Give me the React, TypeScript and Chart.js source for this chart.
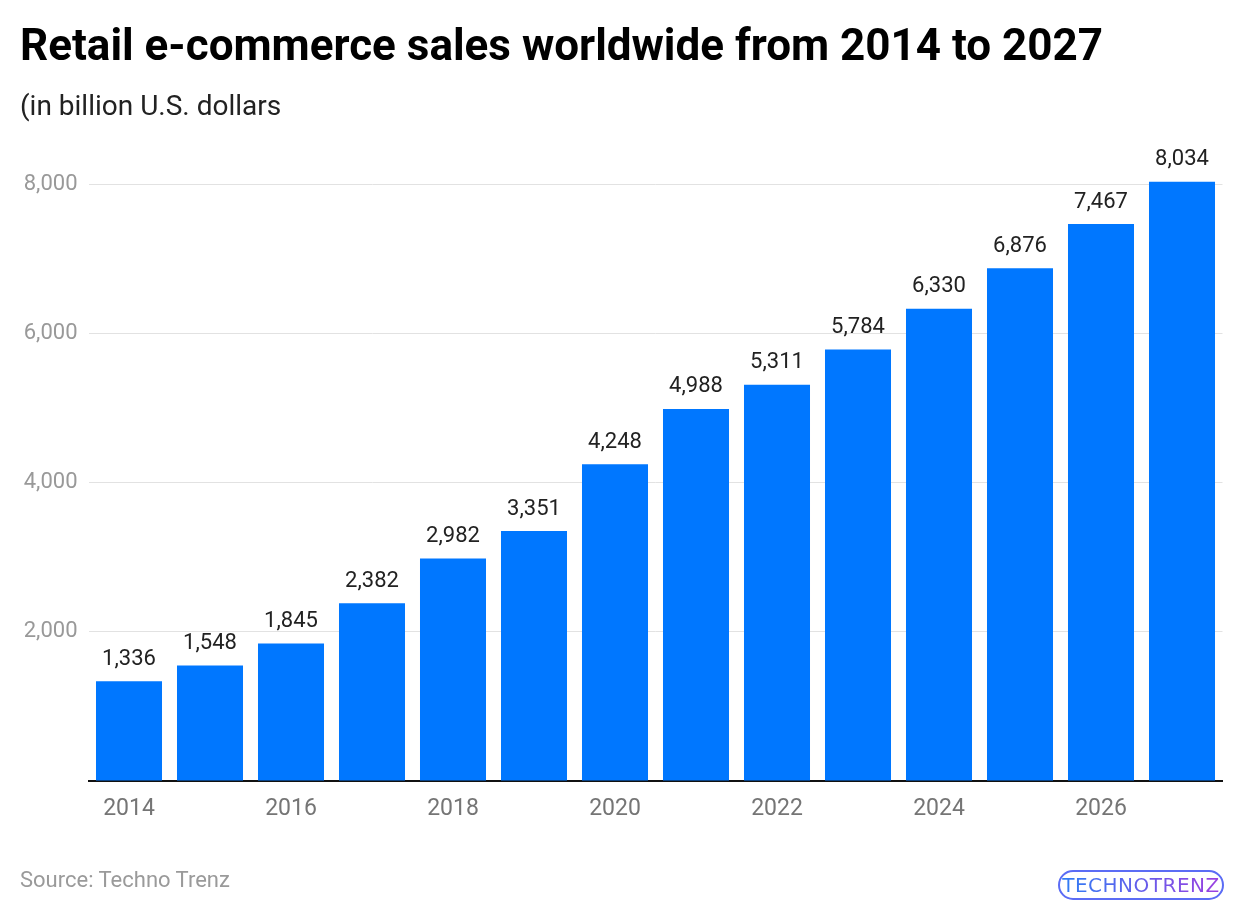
import React, { useEffect, useRef } from "react";
import { Chart, registerables } from "chart.js";

Chart.register(...registerables);

const years = ["2014","2015","2016","2017","2018","2019","2020","2021","2022","2023","2024","2025","2026","2027"];
const sales = [1336, 1548, 1845, 2382, 2982, 3351, 4248, 4988, 5311, 5784, 6330, 6876, 7467, 8034];
const yTicks = [0, 2000, 4000, 6000, 8000];

const FONT = "Roboto, 'Noto Sans', sans-serif";

const valueLabels = {
  id: "valueLabels",
  afterDatasetsDraw(chart: any) {
    const { ctx } = chart;
    const meta = chart.getDatasetMeta(0);
    ctx.save();
    ctx.font = `22px ${FONT}`;
    ctx.fillStyle = "#222222";
    ctx.textAlign = "center";
    ctx.textBaseline = "bottom";
    meta.data.forEach((bar: any, i: number) => {
      const v = chart.data.datasets[0].data[i] as number;
      ctx.fillText(v.toLocaleString("en-US"), bar.x, bar.y - 11);
    });
    ctx.restore();
  },
};

export default function App() {
  const ref = useRef<HTMLCanvasElement>(null);
  useEffect(() => {
    const chart = new Chart(ref.current!, {
      type: "bar",
      data: {
        labels: years,
        datasets: [
          {
            data: sales,
            backgroundColor: "#0077FF",
            barPercentage: 0.815,
            categoryPercentage: 1,
          },
        ],
      },
      options: {
        animation: false,
        responsive: false,
        maintainAspectRatio: false,
        layout: { padding: { left: 0, right: 17.5, top: 147, bottom: 83 } },
        plugins: { legend: { display: false }, tooltip: { enabled: false }, title: { display: false } },
        scales: {
          x: {
            grid: { display: false, drawTicks: false },
            border: { color: "#111111", width: 2 },
            ticks: {
              autoSkip: false,
              maxRotation: 0,
              padding: 14,
              color: "#757575",
              font: { family: FONT, size: 23 },
              callback: (_v: any, i: number) => (i % 2 === 0 ? years[i] : ""),
            },
            afterFit: (s: any) => { s.height = 50; },
          },
          y: {
            min: 0,
            max: 8500,
            afterBuildTicks: (s: any) => { s.ticks = yTicks.map((v) => ({ value: v })); },
            grid: {
              drawTicks: false,
              color: (c: any) => (c.tick && c.tick.value === 0 ? "rgba(0,0,0,0)" : "#e2e2e2"),
              lineWidth: 1,
            },
            border: { display: false },
            ticks: {
              padding: 11,
              color: "#999999",
              font: { family: FONT, size: 22 },
              callback: (v: any) => (v === 0 ? "" : Number(v).toLocaleString("en-US")),
            },
            afterFit: (s: any) => { s.width = 88.5; },
          },
        },
      },
      plugins: [valueLabels],
    });
    return () => chart.destroy();
  }, []);

  return (
    <div style={{ position: "absolute", left: 0, top: 0, width: 1240, height: 914, background: "#fff", fontFamily: FONT }}>
      <canvas ref={ref} width={1240} height={914} style={{ position: "absolute", left: 0, top: 0 }} />
      <div style={{ position: "absolute", left: 20, top: 19, fontSize: 44, lineHeight: "52px", fontWeight: 700, color: "#000", whiteSpace: "nowrap" }}>
        Retail e-commerce sales worldwide from 2014 to 2027
      </div>
      <div style={{ position: "absolute", left: 20, top: 89, fontSize: 28, lineHeight: "34px", color: "#222", whiteSpace: "nowrap" }}>
        (in billion U.S. dollars
      </div>
      <div style={{ position: "absolute", left: 20, top: 867, fontSize: 22, lineHeight: "26px", color: "#9a9a9a", whiteSpace: "nowrap" }}>
        Source: Techno Trenz
      </div>
      <div
        style={{
          position: "absolute",
          left: 1058,
          top: 870,
          width: 166,
          height: 30,
          borderRadius: 15,
          border: "2px solid #5b6cf5",
          boxSizing: "border-box",
          display: "flex",
          alignItems: "center",
          justifyContent: "center",
        }}
      >
        <span
          style={{
            fontSize: 20,
            fontWeight: 500,
            letterSpacing: 0.5,
            background: "linear-gradient(90deg, #2f7df5, #9b3fe0)",
            WebkitBackgroundClip: "text",
            backgroundClip: "text",
            color: "transparent",
            fontFamily: "'DejaVu Sans', sans-serif",
          }}
        >
          TECHNOTRENZ
        </span>
      </div>
    </div>
  );
}
